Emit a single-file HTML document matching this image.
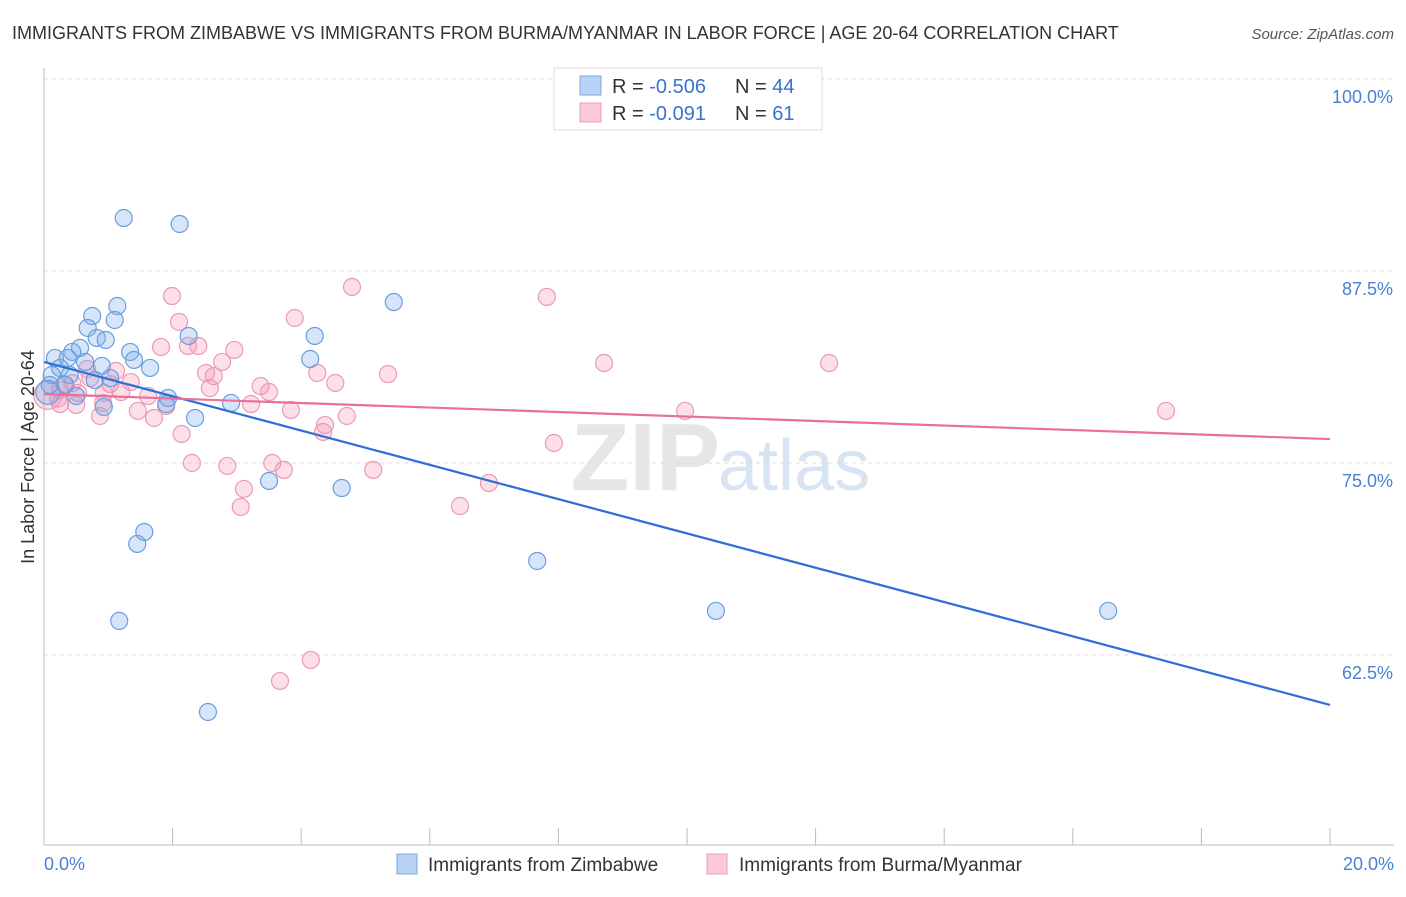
<!DOCTYPE html>
<html><head><meta charset="utf-8"><style>
body{margin:0;background:#fff;font-family:"Liberation Sans",sans-serif;}
svg text{font-family:"Liberation Sans",sans-serif;}
</style></head><body>
<svg id="chart" width="1406" height="892" viewBox="0 0 1406 892">
<text x="12" y="39" font-size="18" fill="#333">IMMIGRANTS FROM ZIMBABWE VS IMMIGRANTS FROM BURMA/MYANMAR IN LABOR FORCE | AGE 20-64 CORRELATION CHART</text>
<text x="1394" y="39" font-size="15" fill="#555" text-anchor="end" font-style="italic">Source: ZipAtlas.com</text>
<text x="720" y="490" font-size="96" fill="#e6e6e6" text-anchor="end" font-family="Liberation Serif" font-weight="bold">ZIP</text>
<text x="718" y="490" font-size="72" fill="#d8e4f3">atlas</text>
<g id="grid"></g>
<g id="axes"></g>
<g id="pts"></g>
<g id="lines"></g>
<text transform="translate(34,457) rotate(-90)" font-size="18" fill="#333" text-anchor="middle">In Labor Force | Age 20-64</text>
<text x="44" y="870" font-size="18" fill="#4a7fd4">0.0%</text>
<text x="1394" y="870" font-size="18" fill="#4a7fd4" text-anchor="end">20.0%</text>
<g>
<rect x="554" y="68" width="268" height="62" fill="#fff" stroke="#ddd"/>
<rect x="580" y="76" width="21" height="19" fill="#b8d3f5" stroke="#7aa8e6"/>
<rect x="580" y="103" width="21" height="19" fill="#fbc8d8" stroke="#ee9bb7"/>
<text x="612" y="93" font-size="20" fill="#333">R = <tspan fill="#3a72d0">-0.506</tspan></text>
<text x="735" y="93" font-size="20" fill="#333">N = <tspan fill="#3a72d0">44</tspan></text>
<text x="612" y="120" font-size="20" fill="#333">R = <tspan fill="#3a72d0"> -0.091</tspan></text>
<text x="735" y="120" font-size="20" fill="#333">N = <tspan fill="#3a72d0"> 61</tspan></text>
</g>
<g>
<rect x="397" y="854" width="20" height="20" fill="#b8d3f5" stroke="#7aa8e6"/>
<text x="428" y="871" font-size="19" fill="#333">Immigrants from Zimbabwe</text>
</g>
<g>
<rect x="707" y="854" width="20" height="20" fill="#fbc8d8" stroke="#ee9bb7"/>
<text x="739" y="871" font-size="19" fill="#333">Immigrants from Burma/Myanmar</text>
</g>
</svg>
<script>
const yTicks=[100,87.5,75,62.5];
const yTickLabels=["100.0%","87.5%","75.0%","62.5%"];
const xTicks=[0,2,4,6,8,10,12,14,16,18,20];
const zimX=[1.24,2.11,5.44,1.14,0.75,1.10,0.68,0.82,0.96,2.25,4.21,0.56,0.44,1.34,4.14,0.17,0.37,0.64,1.40,1.65,0.90,0.25,0.12,0.40,0.79,1.03,0.09,0.33,0.50,1.93,1.90,0.93,2.91,2.35,3.50,4.63,1.56,1.45,7.67,10.45,16.55,1.17,2.55,0.06];
const zimY=[90.95,90.56,85.48,85.22,84.57,84.31,83.79,83.14,83.01,83.27,83.27,82.49,82.23,82.23,81.77,81.84,81.84,81.58,81.71,81.19,81.32,81.19,80.73,80.73,80.40,80.53,80.08,80.08,79.36,79.23,78.84,78.65,78.91,77.93,73.83,73.37,70.51,69.73,68.62,65.37,65.37,64.72,58.79,79.6];
const burX=[4.79,7.82,1.99,2.10,3.90,2.24,2.40,1.82,2.96,8.71,12.21,2.77,2.52,2.64,4.25,5.35,1.12,0.67,1.35,3.37,3.50,4.53,2.58,1.20,1.62,0.93,0.53,0.31,0.25,0.50,0.92,1.46,1.90,3.22,3.84,4.71,9.97,17.45,0.87,1.71,2.14,4.37,4.34,7.93,2.30,2.85,3.55,3.73,5.12,6.92,3.11,3.06,6.47,4.15,3.67,0.06,0.25,0.44,1.03,0.72,0.22];
const burY=[86.46,85.81,85.87,84.18,84.44,82.62,82.62,82.55,82.36,81.51,81.51,81.58,80.86,80.66,80.86,80.79,80.99,81.12,80.27,80.01,79.62,80.21,79.88,79.62,79.36,79.56,79.56,80.14,78.84,78.78,78.91,78.39,78.71,78.84,78.45,78.06,78.39,78.39,78.06,77.93,76.89,77.47,77.02,76.30,75.0,74.81,75.0,74.55,74.55,73.70,73.31,72.14,72.20,62.18,60.81,79.4,79.75,80.2,80.14,80.53,79.2];
const zimTrend=[81.58,59.25];
const burTrend=[79.49,76.56];
const NS='http://www.w3.org/2000/svg';
const X=v=>44+v/20*1286;
const Y=v=>79+(100-v)/12.5*192;
function mk(tag,attrs,parent){const e=document.createElementNS(NS,tag);for(const k in attrs)e.setAttribute(k,attrs[k]);document.getElementById(parent).appendChild(e);return e;}
yTicks.forEach((t,i)=>{
  const l=mk('line',{x1:44,x2:1394,y1:Y(t),y2:Y(t),stroke:'#ddd','stroke-dasharray':'4,4'},'grid');
  
  
  const tx=mk('text',{x:1393,y:Y(t)+24,'font-size':18,fill:'#4a7fd4','text-anchor':'end'},'grid');
  tx.textContent=yTickLabels[i];
  
  
});
const ax=mk('line',{x1:44,x2:1394,y1:845,y2:845,stroke:'#bbb'},'axes');


const ay=mk('line',{x1:44,x2:44,y1:68,y2:845,stroke:'#bbb'},'axes');


xTicks.forEach(t=>{
  const l=mk('line',{x1:X(t),x2:X(t),y1:828,y2:845,stroke:'#bbb'},'axes');
  
  
});
burX.forEach((v,i)=>{
  const c=mk('circle',{cx:X(v),cy:Y(burY[i]),r:i==55?14:8.5,fill:'rgba(244,150,180,0.3)',stroke:'#eb9ab5','stroke-width':1.2},'pts');
  
  
});
zimX.forEach((v,i)=>{
  const c=mk('circle',{cx:X(v),cy:Y(zimY[i]),r:i==43?12:8.5,fill:'rgba(120,170,235,0.3)',stroke:'#6a9ee0','stroke-width':1.2},'pts');
  
  
});
const lz=mk('line',{x1:X(0),x2:X(20),y1:Y(zimTrend[0]),y2:Y(zimTrend[1]),stroke:'#2f6fd6','stroke-width':2.2},'lines');


const lb=mk('line',{x1:X(0),x2:X(20),y1:Y(burTrend[0]),y2:Y(burTrend[1]),stroke:'#e8709a','stroke-width':2.2},'lines');


</script>
</body></html>
